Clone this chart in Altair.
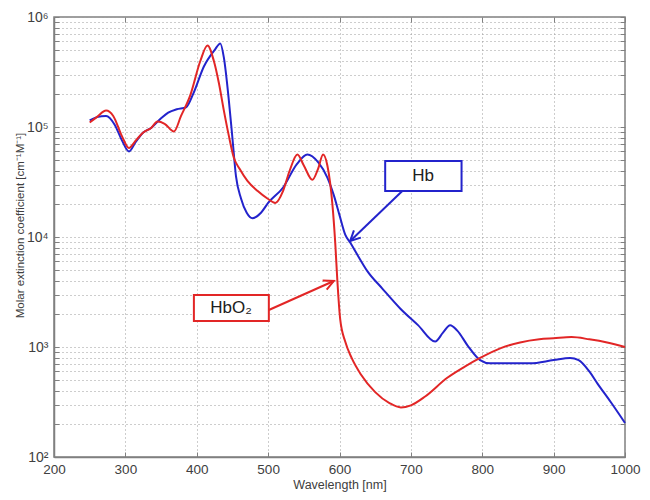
import altair as alt
import pandas as pd

# ---- data ----
hb_nm = [250, 260, 273, 285, 295, 305, 315, 325, 336, 350, 360, 372, 385, 395, 410, 425, 433, 438, 445, 450,
         455, 462, 470, 478, 490, 500, 521, 540, 555, 570, 583, 592, 600, 608, 615, 625, 639, 660, 685, 710,
         734, 745, 755, 765, 780, 797, 811, 840, 867, 900, 923, 935, 950, 961, 980, 1000]
hb_val = [115000, 123000, 126000, 105000, 76000, 60000, 74000, 89000, 98000, 120000, 135000, 145000, 151000,
          200000, 355000, 500000, 575000, 427000, 174000, 79000, 35500, 22400, 16600, 14800, 16600, 20400,
          28200, 45700, 56200, 47900, 34700, 24000, 15800, 10500, 8900, 6900, 4900, 3400, 2240, 1580, 1120,
          1350, 1580, 1410, 1020, 760, 710, 710, 710, 760, 795, 760, 600, 470, 316, 204]

hbo2_nm = [250, 260, 273, 283, 295, 305, 315, 325, 336, 345, 355, 368, 378, 391, 405, 415, 424, 431, 438, 445,
           452, 460, 471, 485, 499, 510, 521, 530, 541, 550, 562, 570, 577, 583, 590, 594, 597, 601, 608, 617,
           630, 650, 670, 686, 700, 720, 751, 775, 797, 826, 853, 880, 900, 925, 950, 975, 1000]
hbo2_val = [110000, 123000, 141000, 126000, 83000, 64500, 76000, 89000, 98000, 112000, 107000, 91000, 126000,
            195000, 398000, 550000, 398000, 251000, 141000, 83000, 52500, 41700, 32400, 26300, 22400, 20400,
            26300, 39800, 56200, 44700, 33100, 41700, 56200, 44700, 20000, 8900, 4000, 1780, 1120, 795, 562,
            389, 309, 282, 295, 355, 525, 660, 795, 977, 1100, 1175, 1200, 1230, 1175, 1100, 1000]

series_names = ["Hb", "HbO2"]
series_colors = ["#2323cc", "#e22626"]

x_ticks = [200, 300, 400, 500, 600, 700, 800, 900, 1000]
y_ticks = [m * 10 ** k for k in range(2, 6) for m in range(1, 10)] + [1000000]

# annotations (data coordinates)
ann_series = ["Hb", "HbO2"]
ann_label = ["Hb", "HbO\u2082"]
box_x1 = [664, 396]
box_x2 = [771, 501]
box_y1 = [26200, 1720]
box_y2 = [49000, 2970]
txt_x = [717, 448]
txt_y = [35800, 2265]
tail_x = [688, 501]
tail_y = [26200, 2170]
head_x = [615, 592]
head_y = [9200, 3980]
head_angle = [136, 336]

# ---- frames ----
df = pd.concat([
    pd.DataFrame({"nm": hb_nm, "val": hb_val, "s": "Hb"}),
    pd.DataFrame({"nm": hbo2_nm, "val": hbo2_val, "s": "HbO2"}),
])
ann = pd.DataFrame({
    "s": ann_series, "label": ann_label,
    "bx1": box_x1, "bx2": box_x2, "by1": box_y1, "by2": box_y2,
    "tx": txt_x, "ty": txt_y,
    "ax1": tail_x, "ay1": tail_y, "ax2": head_x, "ay2": head_y, "ang": head_angle,
})

FONT = "Liberation Sans"
xs = alt.Scale(domain=[200, 1000], nice=False, zero=False)
ys = alt.Scale(type="log", domain=[100, 1000000], nice=False)
cs = alt.Scale(domain=series_names, range=series_colors)

y_label_expr = ("datum.value == 100 ? '10\u00b2' : datum.value == 1000 ? '10\u00b3' : "
                "datum.value == 10000 ? '10\u2074' : datum.value == 100000 ? '10\u2075' : "
                "datum.value == 1000000 ? '10\u2076' : ''")

x_main = alt.Axis(values=x_ticks, title="Wavelength [nm]", grid=True, gridDash=[1, 3], gridColor="#9a9a9a",
                  ticks=False, tickSize=0, labelPadding=5, labelFontSize=13.5, labelColor="#404040",
                  labelFont=FONT, titleFont=FONT, titleFontSize=12.5, titleColor="#404040", titleFontWeight="normal",
                  titleBaseline="alphabetic", titleY=31.5, labelFlush=False,
                  domainColor="#808080", domainWidth=1.5, format="d")
y_main = alt.Axis(values=y_ticks, labelExpr=y_label_expr, title="Molar extinction coefficient [cm\u207b\u00b9M\u207b\u00b9]",
                  grid=True, gridDash=[1, 3], gridColor="#9a9a9a", ticks=False, tickSize=0, labelPadding=6,
                  labelFontSize=14, labelColor="#404040", labelFont=FONT, titleFont=FONT, titleFontSize=11.5,
                  titleColor="#404040", titleFontWeight="normal", titleX=-29, titleY=208, labelFlush=False,
                  domainColor="#808080", domainWidth=1.5, labelOverlap=False)

lines = alt.Chart(df).mark_line(strokeWidth=2, interpolate="monotone").encode(
    x=alt.X("nm:Q", scale=xs, axis=x_main),
    y=alt.Y("val:Q", scale=ys, axis=y_main),
    color=alt.Color("s:N", scale=cs, legend=None),
    detail="s:N",
)


def tick_layer(xo, yo):
    return alt.Chart(df).mark_point(opacity=0).encode(
        x=alt.X("nm:Q", scale=xs, axis=alt.Axis(orient=xo, offset=-5, tickSize=5, values=x_ticks, labels=False,
                                                domain=False, grid=False, title=None, tickColor="#808080")),
        y=alt.Y("val:Q", scale=ys, axis=alt.Axis(orient=yo, offset=-5, tickSize=5, values=y_ticks, labels=False,
                                                 domain=False, grid=False, title=None, tickColor="#808080")),
    )


ticks_a = tick_layer("bottom", "left")
ticks_b = tick_layer("top", "right")

base = alt.Chart(ann)
boxes = base.mark_rect(fill="white", strokeWidth=2).encode(
    x=alt.X("bx1:Q", scale=xs, axis=None), x2="bx2:Q",
    y=alt.Y("by1:Q", scale=ys, axis=None), y2="by2:Q",
    stroke=alt.Color("s:N", scale=cs, legend=None),
)
labels = base.mark_text(fontSize=17, font=FONT, color="#202020", align="center", baseline="middle").encode(
    x=alt.X("tx:Q", scale=xs, axis=None),
    y=alt.Y("ty:Q", scale=ys, axis=None),
    text="label:N",
)
arrows = base.mark_rule(strokeWidth=2).encode(
    x=alt.X("ax1:Q", scale=xs, axis=None), x2="ax2:Q",
    y=alt.Y("ay1:Q", scale=ys, axis=None), y2="ay2:Q",
    color=alt.Color("s:N", scale=cs, legend=None),
)
heads = base.mark_point(shape="M-1,-0.5L0,0L-1,0.5", filled=False, size=400, strokeWidth=2, opacity=1).encode(
    x=alt.X("ax2:Q", scale=xs, axis=None),
    y=alt.Y("ay2:Q", scale=ys, axis=None),
    angle=alt.Angle("ang:Q", scale=None),
    color=alt.Color("s:N", scale=cs, legend=None),
)

chart = alt.layer(lines, ticks_a, ticks_b, arrows, heads, boxes, labels).resolve_axis(
    x="independent", y="independent"
).properties(
    width=571, height=440,
    autosize=alt.AutoSizeParams(type="none"),
    padding={"left": 46, "top": 9, "right": 17, "bottom": 35},
    background="white",
).configure_view(stroke="#808080", strokeWidth=1.5)

chart.save("out.html", embed_options={"renderer": "svg", "actions": False})
